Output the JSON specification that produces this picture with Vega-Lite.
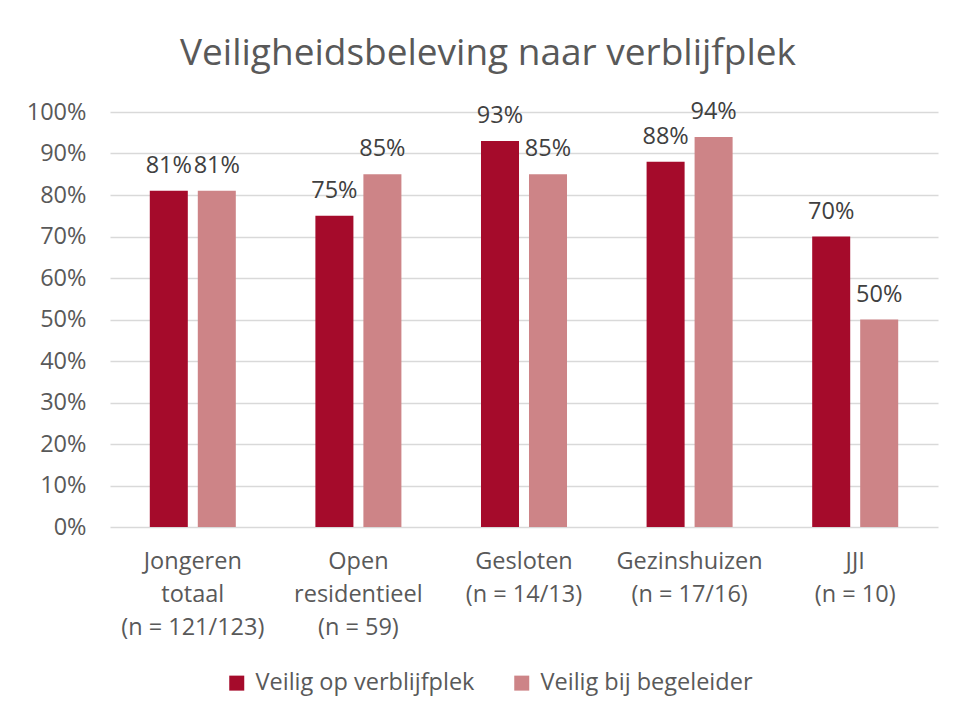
{
  "$schema": "https://vega.github.io/schema/vega-lite/v6.json",
  "autosize": {"type": "none"},
  "padding": {"left": 110, "top": 112, "right": 16, "bottom": 190},
  "width": 828,
  "height": 415,
  "background": "white",
  "config": {
    "font": "Open Sans",
    "view": {"stroke": null}
  },
  "title": {
    "text": "Veiligheidsbeleving naar verblijfplek",
    "fontSize": 37,
    "fontWeight": "normal",
    "color": "#595959",
    "anchor": "middle",
    "dx": -36,
    "offset": 27
  },
  "data": {
    "values": [
      {"plek": "Jongeren|totaal|(n = 121/123)", "reeks": "Veilig op verblijfplek", "waarde": 0.81},
      {"plek": "Jongeren|totaal|(n = 121/123)", "reeks": "Veilig bij begeleider", "waarde": 0.81},
      {"plek": "Open|residentieel|(n = 59)", "reeks": "Veilig op verblijfplek", "waarde": 0.75},
      {"plek": "Open|residentieel|(n = 59)", "reeks": "Veilig bij begeleider", "waarde": 0.85},
      {"plek": "Gesloten|(n = 14/13)", "reeks": "Veilig op verblijfplek", "waarde": 0.93},
      {"plek": "Gesloten|(n = 14/13)", "reeks": "Veilig bij begeleider", "waarde": 0.85},
      {"plek": "Gezinshuizen|(n = 17/16)", "reeks": "Veilig op verblijfplek", "waarde": 0.88},
      {"plek": "Gezinshuizen|(n = 17/16)", "reeks": "Veilig bij begeleider", "waarde": 0.94},
      {"plek": "JJI|(n = 10)", "reeks": "Veilig op verblijfplek", "waarde": 0.70},
      {"plek": "JJI|(n = 10)", "reeks": "Veilig bij begeleider", "waarde": 0.50}
    ]
  },
  "encoding": {
    "x": {
      "field": "plek",
      "type": "nominal",
      "sort": null,
      "scale": {"paddingInner": 0, "paddingOuter": 0},
      "axis": {
        "title": null,
        "labelAngle": 0,
        "labelExpr": "split(datum.label, '|')",
        "labelFontSize": 23.5,
        "labelColor": "#595959",
        "labelLineHeight": 33,
        "labelPadding": 22,
        "labelBaseline": "top",
        "labelLimit": 300,
        "ticks": false,
        "domain": false
      }
    },
    "xOffset": {
      "field": "reeks",
      "type": "nominal",
      "sort": ["Veilig op verblijfplek", "Veilig bij begeleider"],
      "scale": {"paddingInner": 0.208, "paddingOuter": 0.829}
    },
    "y": {
      "field": "waarde",
      "type": "quantitative",
      "scale": {"domain": [0, 1]},
      "axis": {
        "title": null,
        "format": ".0%",
        "values": [0, 0.1, 0.2, 0.3, 0.4, 0.5, 0.6, 0.7, 0.8, 0.9, 1.0],
        "labelFontSize": 23.5,
        "labelColor": "#595959",
        "labelPadding": 24,
        "ticks": false,
        "domain": false,
        "gridColor": "#D9D9D9",
        "gridWidth": 1.3
      }
    }
  },
  "layer": [
    {
      "mark": {"type": "bar"},
      "encoding": {
        "color": {
          "field": "reeks",
          "type": "nominal",
          "sort": ["Veilig op verblijfplek", "Veilig bij begeleider"],
          "scale": {"domain": ["Veilig op verblijfplek", "Veilig bij begeleider"], "range": ["#A50B2B", "#CD8487"]},
          "legend": {
            "title": null,
            "orient": "none",
            "direction": "horizontal",
            "legendX": 115,
            "legendY": 559,
            "symbolType": "square",
            "symbolSize": 225,
            "symbolStrokeWidth": 0,
            "labelFontSize": 23.5,
            "labelColor": "#595959",
            "labelLimit": 400,
            "columnPadding": 35,
            "labelOffset": 7
          }
        }
      }
    },
    {
      "mark": {"type": "text", "baseline": "bottom", "dy": -13, "fontSize": 23.5, "color": "#404040"},
      "encoding": {
        "text": {"field": "waarde", "type": "quantitative", "format": ".0%"}
      }
    }
  ]
}
